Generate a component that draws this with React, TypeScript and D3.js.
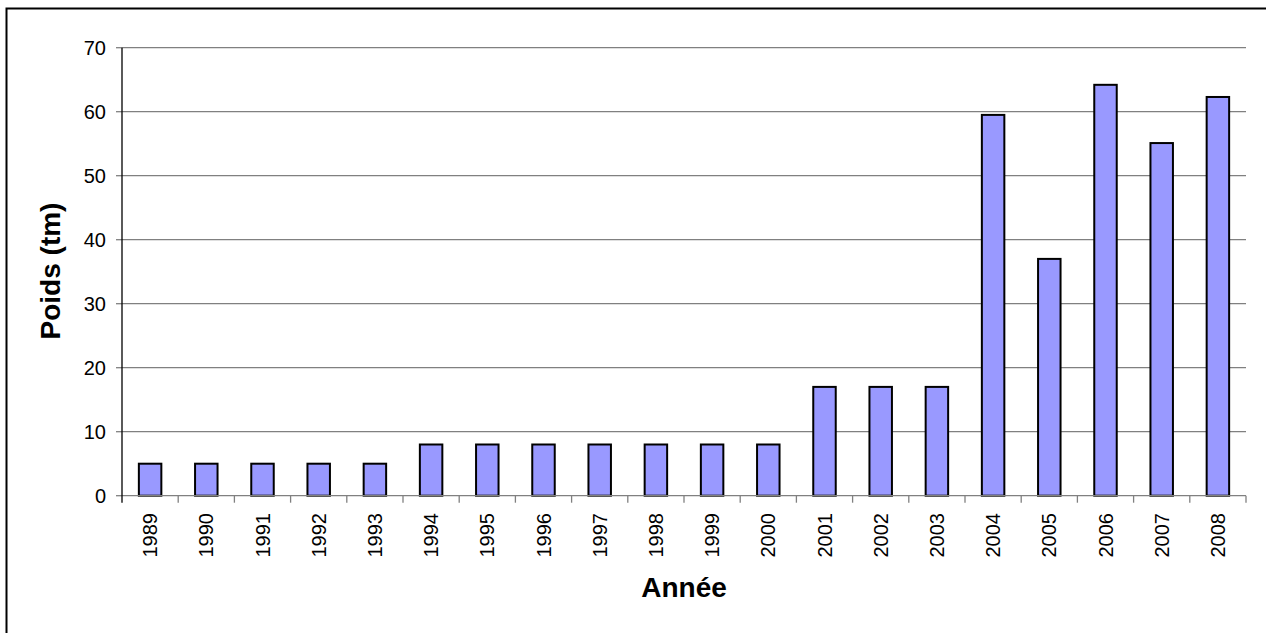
import React from "react";
import * as d3 from "d3";

const years = ["1989","1990","1991","1992","1993","1994","1995","1996","1997","1998","1999","2000","2001","2002","2003","2004","2005","2006","2007","2008"];
const poids = [5,5,5,5,5,8,8,8,8,8,8,8,17,17,17,59.5,37,64.2,55.1,62.3];
const yTicks = [0,10,20,30,40,50,60,70];

const W = 1266, H = 633;
const left = 122, right = 1246, top = 47.7, bottom = 495.7;

export default function App() {
  const x = d3.scaleBand<string>().domain(years).range([left, right]).paddingInner(0).paddingOuter(0);
  const y = d3.scaleLinear().domain([0, 70]).range([bottom, top]);
  const bw = x.bandwidth() * 0.4;
  const font = "Arial, 'Liberation Sans', sans-serif";
  return (
    <svg width={W} height={H} style={{ position: "absolute", left: 0, top: 0, background: "#fff" }} fontFamily={font}>
      <rect x={0} y={0} width={W} height={H} fill="#fff" />
      <rect x={6.5} y={8.5} width={W + 10} height={H + 10} fill="none" stroke="#000" strokeWidth={2} />
      {yTicks.filter(t => t > 0).map(t => (
        <line key={"g" + t} x1={left} x2={right} y1={y(t)} y2={y(t)} stroke="#808080" strokeWidth={1.3} />
      ))}
      {yTicks.map(t => (
        <g key={"t" + t}>
          <line x1={left - 6} x2={left} y1={y(t)} y2={y(t)} stroke="#808080" strokeWidth={1.3} />
          <text x={106} y={y(t)} dy="0.35em" textAnchor="end" fontSize={20} fill="#000">{t}</text>
        </g>
      ))}
      {years.map((yr, i) => (
        <rect key={"b" + yr} x={(x(yr) as number) + x.bandwidth() / 2 - bw / 2} y={y(poids[i])} width={bw} height={bottom - y(poids[i])} fill="#9999FF" stroke="#000" strokeWidth={2} />
      ))}
      <line x1={left} x2={right} y1={bottom} y2={bottom} stroke="#808080" strokeWidth={1.3} />
      {years.map(yr => (
        <line key={"xt" + yr} x1={(x(yr) as number) + x.bandwidth()} x2={(x(yr) as number) + x.bandwidth()} y1={bottom} y2={bottom + 7} stroke="#808080" strokeWidth={1.3} />
      ))}
      <line x1={left} x2={left} y1={top} y2={bottom + 7} stroke="#000" strokeWidth={1.3} />
      {years.map(yr => (
        <text key={"xl" + yr} transform={`translate(${(x(yr) as number) + x.bandwidth() / 2},${513}) rotate(-90)`} textAnchor="end" dy="0.35em" fontSize={20} fill="#000">{yr}</text>
      ))}
      <text transform={`translate(50,271) rotate(-90)`} textAnchor="middle" dy="0.35em" fontSize={28} fontWeight="bold" fill="#000">Poids (tm)</text>
      <text x={684} y={597} textAnchor="middle" fontSize={28} fontWeight="bold" fill="#000">Année</text>
    </svg>
  );
}
